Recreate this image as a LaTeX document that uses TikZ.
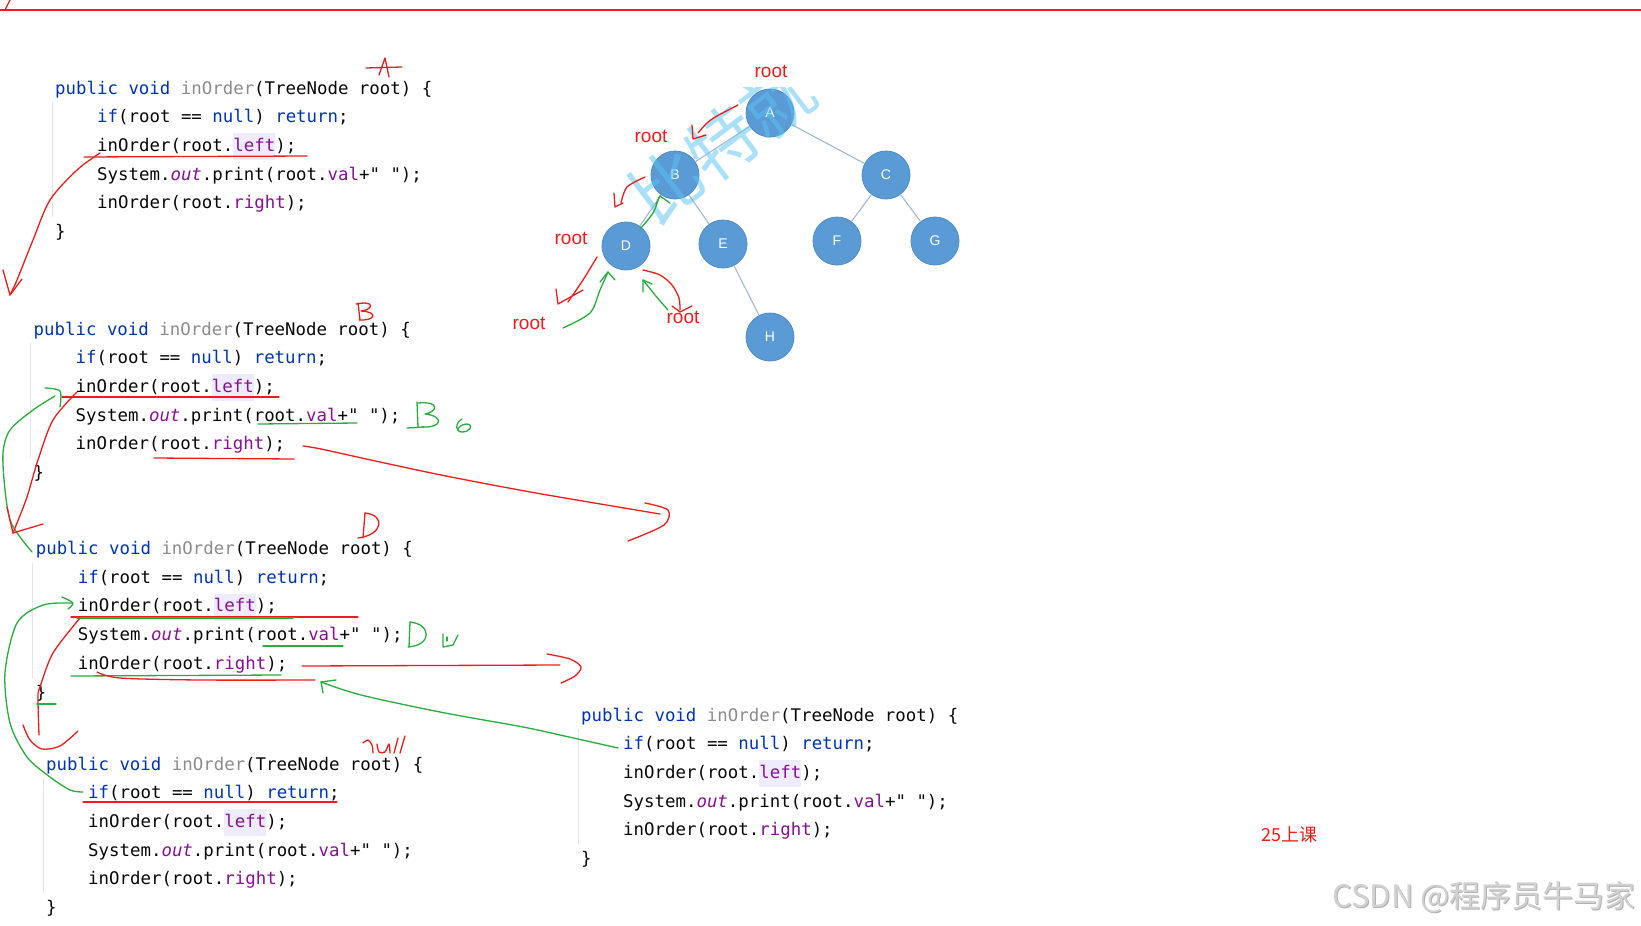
\documentclass[tikz,border=0pt]{standalone}
\usepackage{fontspec}
\setmainfont{Liberation Sans}
\newfontfamily\codefont{DejaVu Sans Mono}
\newfontfamily\cjkfont{Noto Sans CJK SC}
\definecolor{penred}{RGB}{240,28,28}
\definecolor{pengreen}{RGB}{40,172,62}
\definecolor{kw}{HTML}{0033B3}
\definecolor{mgray}{HTML}{8C8C8C}
\definecolor{fieldc}{HTML}{871094}
\definecolor{codeblack}{HTML}{080808}
\definecolor{hlbg}{HTML}{EDEBFC}
\definecolor{guidegray}{HTML}{E4E4E4}
\definecolor{nodeblue}{HTML}{5B9BD5}
\definecolor{nodeedge}{HTML}{4E8BC6}
\definecolor{edgec}{HTML}{A3B9D1}
\definecolor{wmblue}{HTML}{58C4F2}
\definecolor{wmgray}{HTML}{D2D2D2}
\newcommand\hlword[1]{{\setlength{\fboxsep}{0pt}\colorbox{hlbg}{\rule[-9pt]{0pt}{27pt}\color{fieldc}#1}}}
\frenchspacing

\begin{document}
\begin{tikzpicture}[x=1pt,y=-1pt,
  codeline/.style={anchor=west,inner sep=0pt,text=codeblack,text height=12pt,text depth=4pt,
    font=\codefont\fontsize{17.4}{20}\selectfont},
  guide/.style={guidegray,line width=0.8pt},
  tnode/.style={circle,minimum size=48pt,inner sep=0pt,fill=nodeblue,draw=nodeedge,line width=0.8pt,
    text=white,font=\fontsize{14}{14}\selectfont},
  edge/.style={edgec,line width=1.1pt},
  rlabel/.style={inner sep=0pt,text=penred,font=\fontsize{19}{19}\selectfont},
  redpen/.style={penred,line width=1.3pt,line cap=round,line join=round},
  greenpen/.style={pengreen,line width=1.3pt,line cap=round,line join=round}]
  \fill[white] (0,0) rectangle (1641,926);
  \useasboundingbox (0,0) rectangle (1641,926);
  \draw[penred,line width=1.5pt] (0,10) -- (1641,10);
  \draw[redpen] (10,0) -- (5,10);

  \foreach \n/\x/\y in {1/55/90, 2/33.5/331, 3/35.6/550.5, 4/46/766, 5/581/717}{
    \node[codeline] (c\n-1) at (\x,\y) {{\color{kw}public void} {\color{mgray}inOrder}(TreeNode root) \{};
    \node[codeline] (c\n-2) at (\x+42,\y+28.7) {{\color{kw}if}(root == {\color{kw}null}) {\color{kw}return};};
    \node[codeline] (c\n-3) at (\x+42,\y+57.4) {inOrder(root.\hlword{left});};
    \node[codeline] (c\n-4) at (\x+42,\y+86.1) {System.{\color{fieldc}\itshape out}.print(root.{\color{fieldc}val}+" ");};
    \node[codeline] (c\n-5) at (\x+42,\y+114.8) {inOrder(root.{\color{fieldc}right});};
    \node[codeline] (c\n-6) at (\x,\y+143.5) {\}};
    \draw[guide] (\x-3,\y+12) -- (\x-3,\y+127);
  }

  \foreach \n/\x/\y in {A/770/113, B/675/175, C/886/175, D/626/246, E/723/244, F/837/241, G/935/241, H/770/337}
    \node[tnode] (\n) at (\x,\y) {\n};
  \foreach \a/\b in {A/B, A/C, B/D, B/E, C/F, C/G, E/H}
    \draw[edge] (\a) -- (\b);
  \begin{scope}
    \clip (600,87) rectangle (830,260);
    \node[font=\cjkfont\fontsize{70}{70}\selectfont,text=wmblue,opacity=0.5,rotate=37] (wm) at (722,143) {比特就};
  \end{scope}

  \foreach \n/\x/\y in {rA/771/71, rB/651/136, rD/571/238, rL/529/323, rR/683/317}
    \node[rlabel] (\n) at (\x,\y) {root};

  \draw[redpen] plot[smooth] coordinates {(738,105) (717,116) (707,123) (698,133)};
  \draw[redpen] (692,125) -- (693,139) -- (706,135);
  \draw[redpen] plot[smooth] coordinates {(645,177) (627,187) (621,203)};
  \draw[redpen] (614,193) -- (615,207) -- (623,203);
  \draw[greenpen] plot[smooth] coordinates {(640,229) (653,213) (659,197)};
  \draw[greenpen] (656,204) -- (660,196) -- (670,203);
  \draw[redpen] plot[smooth] coordinates {(597,257) (583,280) (568,302)};
  \draw[redpen] (556,289) -- (558,304) -- (583,290);
  \draw[greenpen] plot[smooth] coordinates {(563,328) (590,313) (600,290) (608,272)};
  \draw[greenpen] (600,282) -- (608,272) -- (615,280);
  \draw[redpen] plot[smooth] coordinates {(643,270) (660,275) (672,285) (679,298) (680,310)};
  \draw[redpen] (672,306) -- (680,312) -- (692,306);
  \draw[greenpen] plot[smooth] coordinates {(668,310) (655,295) (643,280)};
  \draw[greenpen] (643,292) -- (643,280) -- (652,284);

  \draw[redpen] (366,68) -- (402,67);
  \draw[redpen] (379,75) -- (385,58) -- (389,77);
  \draw[redpen] (84,157) -- (307,156);
  \draw[redpen] plot[smooth] coordinates {(100,153) (77,170) (50,200) (33,240) (17,280) (10,295)};
  \draw[redpen] (3,270) -- (10,295) -- (22,279);

  \draw[redpen] (358,303) -- (360,320);
  \draw[redpen] (356,304) .. controls (376,300) and (373,310) .. (361,311) .. controls (379,312) and (375,321) .. (359,320);
  \draw[redpen] (62,397) -- (279,397);
  \draw[greenpen] (258,424) -- (357,423);
  \draw[greenpen] (417,402) -- (418,427);
  \draw[greenpen] (407,428) -- (424,427);
  \draw[greenpen] (418,403) .. controls (441,401) and (437,412) .. (425,414) .. controls (444,416) and (443,428) .. (422,427);
  \draw[greenpen] (462,419) .. controls (455,423) and (455,432) .. (462,432) .. controls (470,432) and (474,425) .. (467,424) .. controls (462,424) and (459,427) .. (458,429);
  \draw[redpen] (154,458) -- (294,459);
  \draw[redpen] plot[smooth] coordinates {(303,446) (321,449) (380,462) (446,476) (536,493) (660,514)};
  \draw[redpen] plot[smooth] coordinates {(645,503) (668,510) (664,525) (628,541)};
  \draw[greenpen] plot[smooth] coordinates {(45,388) (60,391) (60,407)};
  \draw[greenpen] plot[smooth] coordinates {(55,396) (33,410) (10,430) (3,453) (5,490) (10,520) (20,537) (32,552)};
  \draw[redpen] plot[smooth] coordinates {(77,392) (53,420) (38,460) (27,497) (17,523) (13,533)};
  \draw[redpen] (7,507) -- (13,533) -- (43,524);

  \draw[redpen] (365,513) -- (363,538);
  \draw[redpen] (365,513) .. controls (386,515) and (383,535) .. (358,538);
  \draw[greenpen] plot[smooth] coordinates {(62,597) (73,603) (68,609)};
  \draw[greenpen] plot[smooth] coordinates {(72,603) (43,605) (17,623) (5,673) (10,723) (27,757) (50,777) (70,790) (83,792)};
  \draw[redpen] (71,617) -- (358,617);
  \draw[greenpen] (77,618) -- (293,618);
  \draw[redpen] plot[smooth] coordinates {(80,618) (53,653) (40,687) (38,697) (39,735)};
  \draw[greenpen] (37,704) -- (56,704);
  \draw[redpen] plot[smooth] coordinates {(23,725) (30,740) (42,749) (60,746) (78,731)};
  \draw[greenpen] (263,646) -- (343,646);
  \draw[greenpen] (410,622) -- (409,647);
  \draw[greenpen] (410,622) .. controls (431,624) and (433,645) .. (408,647);
  \draw[greenpen] (443,634) -- (443,647) -- (453,645) -- (458,635);
  \draw[greenpen] (447,637) -- (447,641);
  \draw[redpen] (302,666) -- (560,665);
  \draw[redpen] plot[smooth] coordinates {(547,654) (570,659) (581,667) (575,676) (561,683)};
  \draw[greenpen] (71,676) -- (281,675);
  \draw[redpen] plot[smooth] coordinates {(97,672) (120,678) (200,680) (315,680)};
  \draw[greenpen] plot[smooth] coordinates {(618,748) (560,735) (523,727) (440,712) (361,695) (321,682)};
  \draw[greenpen] (323,693) -- (321,682) -- (336,680);

  \draw[redpen] plot[smooth] coordinates {(363,743) (368,740) (372,745) (373,753)};
  \draw[redpen] plot[smooth] coordinates {(377,744) (379,752) (385,752) (389,744) (390,753)};
  \draw[redpen] (394,753) -- (398,738);
  \draw[redpen] (400,753) -- (405,736);
  \draw[redpen] (83,802) -- (337,802);

  \node[text=penred,font=\cjkfont\fontsize{18}{18}\selectfont,inner sep=0pt] (lesson) at (1289,835) {25上课};
  \node[anchor=east,text=gray!60,font=\cjkfont\fontsize{31}{31}\selectfont,inner sep=0pt] (csdnshadow) at (1637,898) {CSDN @程序员牛马家};
  \node[anchor=east,text=wmgray,font=\cjkfont\fontsize{31}{31}\selectfont,inner sep=0pt] (csdn) at (1636,897) {CSDN @程序员牛马家};
\end{tikzpicture}
\end{document}
